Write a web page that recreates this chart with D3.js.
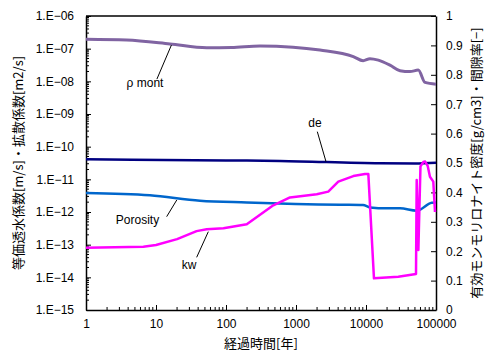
<!DOCTYPE html>
<html>
<head>
<meta charset="utf-8">
<script src="https://cdn.jsdelivr.net/npm/d3@7"></script>
<style>
  body { margin: 0; background: #fff; }
  text { font-family: "Liberation Sans", Arial, sans-serif; }
  .jp { font-family: "Noto Sans CJK JP", sans-serif; }
</style>
</head>
<body>
<div id="chart"></div>
<script>
// ρmont (right axis)
var rhoYears = [1, 3.8, 15.8, 53, 120, 306, 906, 2200, 6590, 9100, 11400, 15000, 22000, 30600, 42500, 55800, 69700, 100000];
var rhoValues = [0.921, 0.918, 0.905, 0.892, 0.893, 0.898, 0.894, 0.884, 0.862, 0.848, 0.855, 0.850, 0.833, 0.814, 0.811, 0.816, 0.774, 0.768];

// Porosity (right axis)
var porYears = [1, 8.2, 42.5, 198, 4250, 9060, 11400, 19800, 30600, 53000, 86900, 100000];
var porValues = [0.398, 0.390, 0.372, 0.366, 0.358, 0.357, 0.349, 0.346, 0.346, 0.338, 0.365, 0.366];

// de (left axis)
var deYears = [1, 100, 590, 15850, 50000, 100000];
var deValues = [4.1e-11, 3.8e-11, 3.65e-11, 3.1e-11, 3.05e-11, 3.2e-11];

// kw (left axis)
var kwYears = [1, 6.6, 10, 20, 38, 53, 92, 198, 474, 821, 1977, 2890, 4020, 6590, 9660, 10800, 13000, 28900, 51800, 53000, 56000, 60000, 66000, 70000, 76000, 82000, 91500, 96800];
var kwValues = [8.1e-14, 8.7e-14, 9.8e-14, 1.48e-13, 2.6e-13, 2.95e-13, 3.2e-13, 4.2e-13, 1.6e-12, 2.8e-12, 3.5e-12, 4.2e-12, 8.5e-12, 1.26e-11, 1.45e-11, 1.45e-11, 9.3e-15, 1.05e-14, 1.26e-14, 9.5e-12, 6.9e-14, 2.5e-11, 3.4e-11, 3.5e-11, 2.6e-11, 1.2e-11, 8.5e-12, 1.0e-12];

// tick values
var xTicks = [1, 10, 100, 1000, 10000, 100000];
var yLeftTicks = [1e-15, 1e-14, 1e-13, 1e-12, 1e-11, 1e-10, 1e-9, 1e-8, 1e-7, 1e-6];
var yRightTicks = [0, 0.1, 0.2, 0.3, 0.4, 0.5, 0.6, 0.7, 0.8, 0.9, 1];

// series labels (positions in year / left-axis units)
var labels = [
  { text: "ρ mont", t: 6.96, v: 8.9e-9, t1: 10.3, v1: 1.17e-8, t2: 16.6, v2: 1.29e-7 },
  { text: "de", t: 1868, v: 5.2e-10, t1: 2015, v1: 2.88e-10, t2: 2683, v2: 3.47e-11 },
  { text: "Porosity", t: 5.44, v: 5.7e-13, t1: 14.2, v1: 7.2e-13, t2: 19.8, v2: 2.33e-12 },
  { text: "kw", t: 29.6, v: 2.39e-14, t1: 38.1, v1: 4.1e-14, t2: 55.9, v2: 2.5e-13 }
];

var margin = { top: 16, right: 50, bottom: 45, left: 86 },
  width = 486 - margin.left - margin.right,
  height = 355 - margin.top - margin.bottom;

var svg = d3.select("#chart")
  .append("svg")
  .attr("width", 486)
  .attr("height", 355)
  .append("g")
  .attr("transform", "translate(" + margin.left + "," + margin.top + ")");

var x = d3.scaleLog().domain([1, 100000]).range([0, width]);
var y = d3.scaleLog().domain([1e-15, 1e-6]).range([height, 0]);
var y2 = d3.scaleLinear().domain([0, 1]).range([height, 0]);

// minor ticks
var minorX = [], minorY = [];
for (var k = 0; k < 5; k++) for (var m = 2; m < 10; m++) minorX.push(m * Math.pow(10, k));
for (var k = -15; k < -6; k++) for (var m = 2; m < 10; m++) minorY.push(m * Math.pow(10, k));

svg.append("g").selectAll("line").data(minorX).enter().append("line")
  .attr("x1", function (d) { return x(d); }).attr("x2", function (d) { return x(d); })
  .attr("y1", height).attr("y2", height - 3)
  .attr("stroke", "#000").attr("stroke-width", 1);
svg.append("g").selectAll("line").data(minorY).enter().append("line")
  .attr("x1", 0).attr("x2", 3)
  .attr("y1", function (d) { return y(d); }).attr("y2", function (d) { return y(d); })
  .attr("stroke", "#000").attr("stroke-width", 1);

// axes
var fmtLeft = function (d) {
  var e = Math.round(Math.log10(d));
  return "1.E\u2212" + String(-e).padStart(2, "0");
};

var gx = svg.append("g")
  .attr("transform", "translate(0," + height + ")")
  .call(d3.axisBottom(x).tickValues(xTicks).tickFormat(d3.format("d")).tickSizeInner(-5).tickSizeOuter(0).tickPadding(9));
var gy = svg.append("g")
  .call(d3.axisLeft(y).tickValues(yLeftTicks).tickFormat(fmtLeft).tickSizeInner(-5).tickSizeOuter(0).tickPadding(12));
var gy2 = svg.append("g")
  .attr("transform", "translate(" + width + ",0)")
  .call(d3.axisRight(y2).tickValues(yRightTicks).tickFormat(d3.format("")).tickSizeInner(-5).tickSizeOuter(0).tickPadding(10));

[gx, gy, gy2].forEach(function (g) {
  g.selectAll("text").attr("font-size", 12).attr("fill", "#000")
    .attr("font-family", "'Liberation Sans', Arial, sans-serif");
  g.selectAll(".domain").attr("stroke", "#000").attr("stroke-width", 1.5);
  g.selectAll(".tick line").attr("stroke", "#000");
});

// top frame line
svg.append("line")
  .attr("x1", 0).attr("x2", width).attr("y1", 0).attr("y2", 0)
  .attr("stroke", "#000").attr("stroke-width", 1.5);

// lines
var lineLeft = d3.line()
  .x(function (d) { return x(d[0]); })
  .y(function (d) { return y(d[1]); });
var lineRight = d3.line()
  .x(function (d) { return x(d[0]); })
  .y(function (d) { return y2(d[1]); })
  .curve(d3.curveMonotoneX);

svg.append("path")
  .datum(d3.zip(porYears, porValues))
  .attr("d", lineRight)
  .attr("fill", "none").attr("stroke", "#0066CC").attr("stroke-width", 2.5);

svg.append("path")
  .datum(d3.zip(deYears, deValues))
  .attr("d", lineLeft.curve(d3.curveMonotoneX))
  .attr("fill", "none").attr("stroke", "#000080").attr("stroke-width", 2.5);

svg.append("path")
  .datum(d3.zip(rhoYears, rhoValues))
  .attr("d", lineRight)
  .attr("fill", "none").attr("stroke", "#8064A2").attr("stroke-width", 3);

svg.append("path")
  .datum(d3.zip(kwYears, kwValues))
  .attr("d", lineLeft.curve(d3.curveLinear))
  .attr("fill", "none").attr("stroke", "#FF00FF").attr("stroke-width", 2.5)
  .attr("stroke-linejoin", "round");

// series labels with leader lines
labels.forEach(function (l) {
  svg.append("line")
    .attr("x1", x(l.t1)).attr("y1", y(l.v1))
    .attr("x2", x(l.t2)).attr("y2", y(l.v2))
    .attr("stroke", "#000").attr("stroke-width", 1);
  svg.append("text")
    .attr("x", x(l.t)).attr("y", y(l.v))
    .attr("text-anchor", "middle").attr("dy", "0.35em")
    .attr("font-size", 12).attr("fill", "#000")
    .text(l.text);
});

// axis titles
svg.append("text").attr("class", "jp")
  .attr("transform", "translate(" + (18 - margin.left) + "," + (height / 2) + ") rotate(-90)")
  .attr("text-anchor", "middle").attr("dy", "0.35em")
  .attr("font-size", 13).attr("fill", "#000")
  .text("等価透水係数[m/s]・拡散係数[m2/s]");

svg.append("text").attr("class", "jp")
  .attr("transform", "translate(" + (width + 40) + "," + (height / 2) + ") rotate(-90)")
  .attr("text-anchor", "middle").attr("dy", "0.35em")
  .attr("font-size", 13).attr("fill", "#000")
  .text("有効モンモリロナイト密度[g/cm3]・間隙率[−]");

svg.append("text").attr("class", "jp")
  .attr("x", width / 2).attr("y", height + 33)
  .attr("text-anchor", "middle").attr("dy", "0.35em")
  .attr("font-size", 13).attr("fill", "#000")
  .text("経過時間[年]");
</script>
</body>
</html>
